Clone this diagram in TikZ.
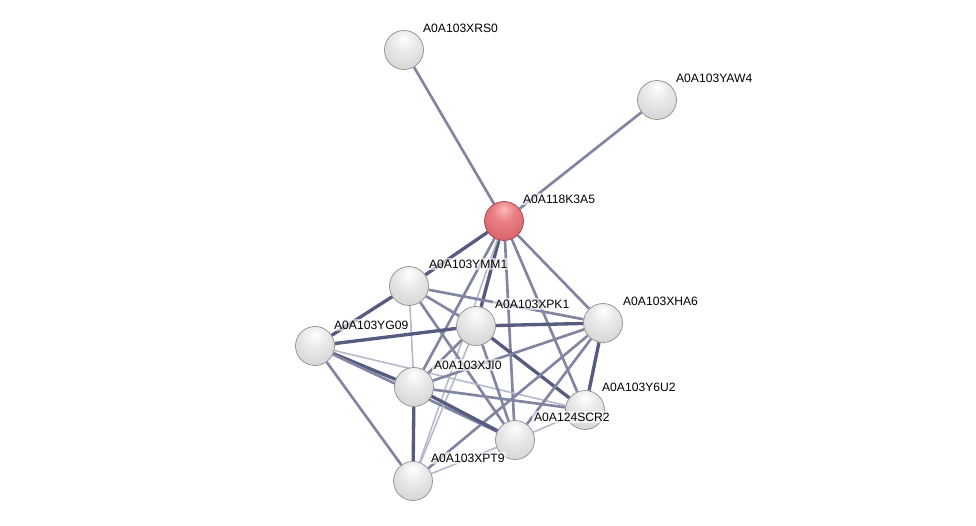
\documentclass[tikz,border=0pt]{standalone}
\usepackage{fontspec}
\setmainfont{Liberation Sans}
\usepackage{xcolor}
\usepackage{tikz}
\usetikzlibrary{backgrounds}

\definecolor{edgedark}{HTML}{555C7D}
\definecolor{edgemid}{HTML}{8086A1}
\definecolor{edgelight}{HTML}{B4B9CB}
\definecolor{rimgrey}{HTML}{8E8E8E}
\definecolor{rimred}{HTML}{A0404A}

\pgfdeclareradialshading{greyball}{\pgfpoint{0bp}{16bp}}{%
  color(0bp)=(white); color(14bp)=(white!92!black);
  color(38bp)=(white!82!black); color(56bp)=(white!74!black);
  color(66bp)=(white!52!black)}
\pgfdeclareradialshading{redball}{\pgfpoint{0bp}{16bp}}{%
  color(0bp)=(white!72!red); color(14bp)=({rgb,255:red,232;green,128;blue,134});
  color(38bp)=({rgb,255:red,214;green,90;blue,98}); color(56bp)=({rgb,255:red,196;green,72;blue,80});
  color(66bp)=({rgb,255:red,150;green,46;blue,54})}

\begin{document}
\begin{tikzpicture}[
    x=0.02cm, y=-0.02cm,
    prot/.style={circle, minimum size=0.78cm, inner sep=0pt,
                 shading=greyball, draw=rimgrey, line width=0.4pt},
    seed/.style={prot, shading=redball, draw=rimred},
    tag/.style={anchor=west, font=\fontsize{6.9}{8}\selectfont,
                fill=white, fill opacity=0.6, text opacity=1, inner sep=1pt},
    strong/.style={draw=edgedark, line width=1.9pt},
    medium/.style={draw=edgemid, line width=1.5pt},
    weak/.style={draw=edgelight, line width=0.9pt}
  ]
    \useasboundingbox (0,0) rectangle (976,526);

    % query protein
    \node[seed] (k3a5) at (504,221) {};
    \node[tag] (lk3a5) at ([shift={(17,-22)}]k3a5) {A0A118K3A5};

    % outer partners
    \node[prot] (xrs0) at (404,50) {};
    \node[tag] (lxrs0) at ([shift={(17,-22)}]xrs0) {A0A103XRS0};
    \node[prot] (yaw4) at (657,100) {};
    \node[tag] (lyaw4) at ([shift={(17,-22)}]yaw4) {A0A103YAW4};

    % cluster
    \node[prot] (ymm1) at (409,286) {};
    \node[tag] (lymm1) at ([shift={(18,-22)}]ymm1) {A0A103YMM1};
    \node[prot] (yg09) at (315,346) {};
    \node[tag] (lyg09) at ([shift={(17,-21)}]yg09) {A0A103YG09};
    \node[prot] (xpk1) at (476,326) {};
    \node[tag] (lxpk1) at ([shift={(17,-22)}]xpk1) {A0A103XPK1};
    \node[prot] (xha6) at (603,323) {};
    \node[tag] (lxha6) at ([shift={(18,-22)}]xha6) {A0A103XHA6};
    \node[prot] (xji0) at (414,387) {};
    \node[tag] (lxji0) at ([shift={(18,-22)}]xji0) {A0A103XJI0};
    \node[prot] (y6u2) at (585,410) {};
    \node[tag] (ly6u2) at ([shift={(15,-23)}]y6u2) {A0A103Y6U2};
    \node[prot] (scr2) at (515,440) {};
    \node[tag] (lscr2) at ([shift={(17,-23)}]scr2) {A0A124SCR2};
    \node[prot] (xpt9) at (413,481) {};
    \node[tag] (lxpt9) at ([shift={(16,-23)}]xpt9) {A0A103XPT9};

    % Links
    \begin{scope}[on background layer]
      \fill[white] (0,0) rectangle (976,526);
      \draw[medium] (k3a5) -- (xrs0);
      \draw[medium] (k3a5) -- (yaw4);
      \draw[strong] (k3a5) -- (ymm1);
      \draw[strong] (k3a5) -- (xpk1);
      \draw[medium] (k3a5) -- (xha6);
      \draw[medium] (k3a5) -- (xji0);
      \draw[medium] (k3a5) -- (y6u2);
      \draw[medium] (k3a5) -- (scr2);
      \draw[weak] (k3a5) -- (xpt9);
      \draw[strong] (ymm1) -- (yg09);
      \draw[medium] (ymm1) -- (xpk1);
      \draw[medium] (ymm1) -- (xha6);
      \draw[weak] (ymm1) -- (xji0);
      \draw[medium] (ymm1) -- (scr2);
      \draw[strong] (yg09) -- (xpk1);
      \draw[strong] (yg09) -- (xji0);
      \draw[weak] (yg09) -- (y6u2);
      \draw[medium] (yg09) -- (scr2);
      \draw[medium] (yg09) -- (xpt9);
      \draw[strong] (xpk1) -- (xha6);
      \draw[medium] (xpk1) -- (xji0);
      \draw[strong] (xpk1) -- (y6u2);
      \draw[medium] (xpk1) -- (scr2);
      \draw[weak] (xpk1) -- (xpt9);
      \draw[medium] (xha6) -- (xji0);
      \draw[strong] (xha6) -- (y6u2);
      \draw[medium] (xha6) -- (scr2);
      \draw[medium] (xha6) -- (xpt9);
      \draw[medium] (xji0) -- (y6u2);
      \draw[strong] (xji0) -- (scr2);
      \draw[strong] (xji0) -- (xpt9);
      \draw[weak] (y6u2) -- (scr2);
      \draw[weak] (scr2) -- (xpt9);
    \end{scope}
  \end{tikzpicture}
\end{document}
